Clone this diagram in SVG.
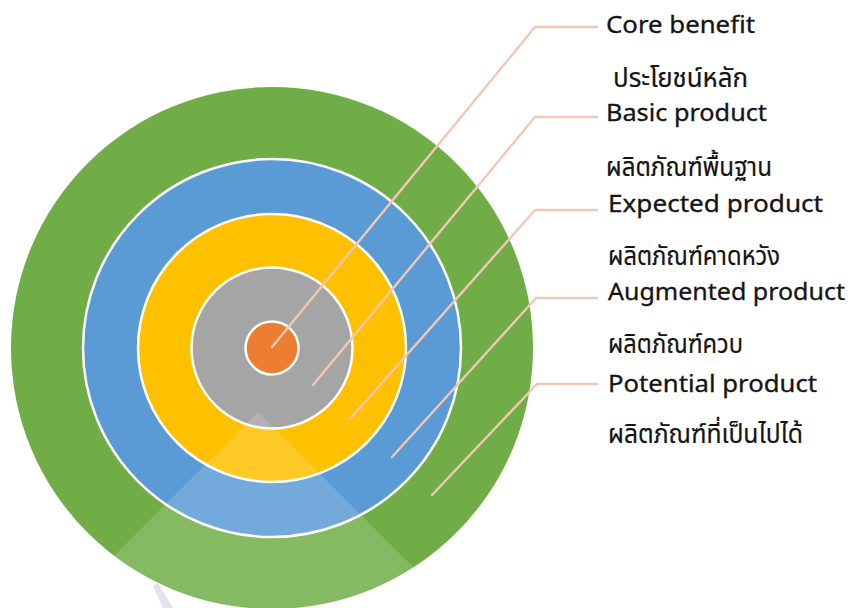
<svg xmlns="http://www.w3.org/2000/svg" width="854" height="608" viewBox="0 0 854 608">
<style>
.ring{stroke:#FFFFFF;stroke-width:2.5}
.lead{fill:none;stroke:#F4C6B6;stroke-width:2.4;stroke-linecap:round;stroke-linejoin:round}
.lbl{font-family:"Noto Sans","Noto Sans Thai","DejaVu Sans",sans-serif;font-size:23px;fill:#141414;stroke:#141414;stroke-width:0.3}
.th{font-family:"Noto Sans Thai","Noto Sans","DejaVu Sans",sans-serif;font-size:26px;fill:#141414;stroke:#141414;stroke-width:0.2}
</style>
<rect width="854" height="608" fill="#FFFFFF"/>
<g id="potential-ring"><circle cx="272" cy="348" r="261" fill="#70AD47"/></g>
<g id="augmented-ring"><circle class="ring" cx="272" cy="348" r="189" fill="#5B9BD5"/></g>
<g id="expected-ring"><circle class="ring" cx="272" cy="348" r="134" fill="#FFC000"/></g>
<g id="basic-ring"><circle class="ring" cx="272" cy="348" r="80.5" fill="#A5A5A5"/></g>
<g id="core-ring"><circle class="ring" cx="272" cy="348" r="26.5" fill="#ED7D31"/></g>
<g id="overlay">
<polygon points="258,412 458,612 58,612" fill="#FFFFFF" fill-opacity="0.15"/>
<polygon points="153,586 158,583 173,608 163,608" fill="#E6DFEE"/>
</g>
<g id="connectors">
<polyline class="lead" points="272,347 535,27 597,27"/>
<polyline class="lead" points="313,385 535,117 597,117"/>
<polyline class="lead" points="350,419 535,210 597,210"/>
<polyline class="lead" points="392,457 536,298 597,298"/>
<polyline class="lead" points="432,495 537,384 597,384"/>
</g>
<g id="label-core">
<text class="lbl" x="606" y="33" textLength="149" lengthAdjust="spacingAndGlyphs">Core benefit</text>
<text class="th" x="613" y="87" textLength="135" lengthAdjust="spacingAndGlyphs">ประโยชน์หลัก</text>
</g>
<g id="label-basic">
<text class="lbl" x="606" y="121" textLength="161" lengthAdjust="spacingAndGlyphs">Basic product</text>
<text class="th" x="606" y="176" textLength="166" lengthAdjust="spacingAndGlyphs">ผลิตภัณฑ์พื้นฐาน</text>
</g>
<g id="label-expected">
<text class="lbl" x="608" y="212" textLength="215" lengthAdjust="spacingAndGlyphs">Expected product</text>
<text class="th" x="608" y="265" textLength="172" lengthAdjust="spacingAndGlyphs">ผลิตภัณฑ์คาดหวัง</text>
</g>
<g id="label-augmented">
<text class="lbl" x="608" y="300" textLength="237" lengthAdjust="spacingAndGlyphs">Augmented product</text>
<text class="th" x="608" y="353" textLength="135" lengthAdjust="spacingAndGlyphs">ผลิตภัณฑ์ควบ</text>
</g>
<g id="label-potential">
<text class="lbl" x="608" y="392" textLength="209" lengthAdjust="spacingAndGlyphs">Potential product</text>
<text class="th" x="608" y="443" textLength="195" lengthAdjust="spacingAndGlyphs">ผลิตภัณฑ์ที่เป็นไปได้</text>
</g>
</svg>
